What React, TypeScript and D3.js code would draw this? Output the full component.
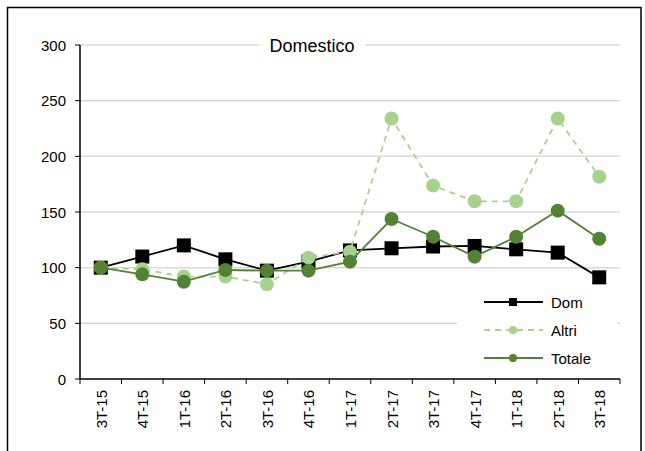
import React, { useEffect, useRef } from "react";
import * as d3 from "d3";

const categories = ["3T-15","4T-15","1T-16","2T-16","3T-16","4T-16","1T-17","2T-17","3T-17","4T-17","1T-18","2T-18","3T-18"];
const domValues = [100, 110, 120, 107.5, 97.3, 105.5, 115.5, 117.4, 119, 119.5, 116.5, 113.5, 91.3];
const altriValues = [100, 98.5, 92, 92, 85, 109, 114.4, 234, 173.7, 159.6, 159.6, 234, 181.7];
const totaleValues = [100, 94, 87.4, 97.9, 97.3, 97.3, 105.4, 143.7, 127.8, 109.9, 127.8, 151.2, 126];
const yTicks = [0, 50, 100, 150, 200, 250, 300];
const seriesNames = ["Dom", "Altri", "Totale"];

const W = 645, H = 451;
const left = 80, right = 620, top = 45, bottom = 379;
const FONT = "'Liberation Sans', Arial, sans-serif";
const LIGHT = "#a9d18e";
const DARK = "#548235";

export default function App() {
  const ref = useRef<SVGSVGElement>(null);
  useEffect(() => {
    const svg = d3.select(ref.current);
    svg.selectAll("*").remove();
    const x = d3.scaleBand<string>().domain(categories).range([left, right]);
    const y = d3.scaleLinear().domain([0, 300]).range([bottom, top]);
    const cx = (c: string) => (x(c) as number) + x.bandwidth() / 2;

    svg.append("rect").attr("x", 0).attr("y", 0).attr("width", W).attr("height", H).attr("fill", "#fff");
    svg.append("rect").attr("x", 7.5).attr("y", 7.5).attr("width", 633.5).attr("height", 460)
      .attr("fill", "none").attr("stroke", "#000").attr("stroke-width", 1.5);

    // grid
    svg.append("g").selectAll("line").data(yTicks.filter(t => t > 0)).join("line")
      .attr("x1", left).attr("x2", right).attr("y1", d => y(d)).attr("y2", d => y(d))
      .attr("stroke", "#d9d9d9").attr("stroke-width", 1.5);

    // y axis
    const ya = svg.append("g");
    ya.append("line").attr("x1", left).attr("x2", left).attr("y1", top).attr("y2", bottom).attr("stroke", "#000").attr("stroke-width", 1.5);
    ya.selectAll("line.t").data(yTicks).join("line").attr("class", "t")
      .attr("x1", left - 5).attr("x2", left).attr("y1", d => y(d)).attr("y2", d => y(d)).attr("stroke", "#000");
    ya.selectAll("text").data(yTicks).join("text")
      .attr("x", left - 14).attr("y", d => y(d) + 5.5).attr("text-anchor", "end")
      .attr("font-family", FONT).attr("font-size", 15).text(d => String(d));

    // x axis
    const xa = svg.append("g");
    xa.append("line").attr("x1", left).attr("x2", right).attr("y1", bottom).attr("y2", bottom).attr("stroke", "#000").attr("stroke-width", 1.5);
    const bounds = categories.map(c => x(c) as number).concat([right]);
    xa.selectAll("line.t").data(bounds).join("line").attr("class", "t")
      .attr("x1", d => d).attr("x2", d => d).attr("y1", bottom).attr("y2", bottom + 5).attr("stroke", "#000");
    xa.selectAll("text").data(categories).join("text")
      .attr("transform", d => `translate(${cx(d) + 6},${bottom + 11}) rotate(-90)`)
      .attr("text-anchor", "end").attr("font-family", FONT).attr("font-size", 15).text(d => d);

    // title
    svg.append("rect").attr("x", 259).attr("y", 34).attr("width", 106).attr("height", 22).attr("fill", "#fff");
    svg.append("text").attr("x", 312).attr("y", 52).attr("text-anchor", "middle")
      .attr("font-family", FONT).attr("font-size", 18).text("Domestico");

    const line = d3.line<number>().x((_, i) => cx(categories[i])).y(d => y(d));

    // Dom
    svg.append("path").attr("d", line(domValues)).attr("fill", "none").attr("stroke", "#000").attr("stroke-width", 1.8);
    svg.append("g").selectAll("rect").data(domValues).join("rect")
      .attr("x", (_, i) => cx(categories[i]) - 7).attr("y", d => y(d) - 7)
      .attr("width", 14).attr("height", 14).attr("fill", "#000");

    // Altri
    svg.append("path").attr("d", line(altriValues)).attr("fill", "none").attr("stroke", LIGHT)
      .attr("stroke-width", 1.8).attr("stroke-dasharray", "6,5");
    svg.append("g").selectAll("circle").data(altriValues).join("circle")
      .attr("cx", (_, i) => cx(categories[i])).attr("cy", d => y(d)).attr("r", 7).attr("fill", LIGHT);

    // Totale
    svg.append("path").attr("d", line(totaleValues)).attr("fill", "none").attr("stroke", DARK).attr("stroke-width", 1.8);
    svg.append("g").selectAll("circle").data(totaleValues).join("circle")
      .attr("cx", (_, i) => cx(categories[i])).attr("cy", d => y(d)).attr("r", 7).attr("fill", DARK);

    // legend
    const lg = svg.append("g");
    lg.append("rect").attr("x", 457).attr("y", 285).attr("width", 160).attr("height", 88).attr("fill", "#fff");
    const colors = ["#000", LIGHT, DARK];
    seriesNames.forEach((name, i) => {
      const ly = 302 + i * 28;
      lg.append("line").attr("x1", 484).attr("x2", 543).attr("y1", ly).attr("y2", ly)
        .attr("stroke", colors[i]).attr("stroke-width", 1.8)
        .attr("stroke-dasharray", i === 1 ? "6,5" : null);
      if (i === 0) lg.append("rect").attr("x", 509).attr("y", ly - 4).attr("width", 8).attr("height", 8).attr("fill", "#000");
      else lg.append("circle").attr("cx", 513).attr("cy", ly).attr("r", 4).attr("fill", colors[i]);
      lg.append("text").attr("x", 551).attr("y", ly + 5.5).attr("font-family", FONT).attr("font-size", 15).text(name);
    });
  }, []);
  return <svg ref={ref} width={W} height={H} style={{ position: "absolute", left: 0, top: 0, display: "block" }} />;
}
